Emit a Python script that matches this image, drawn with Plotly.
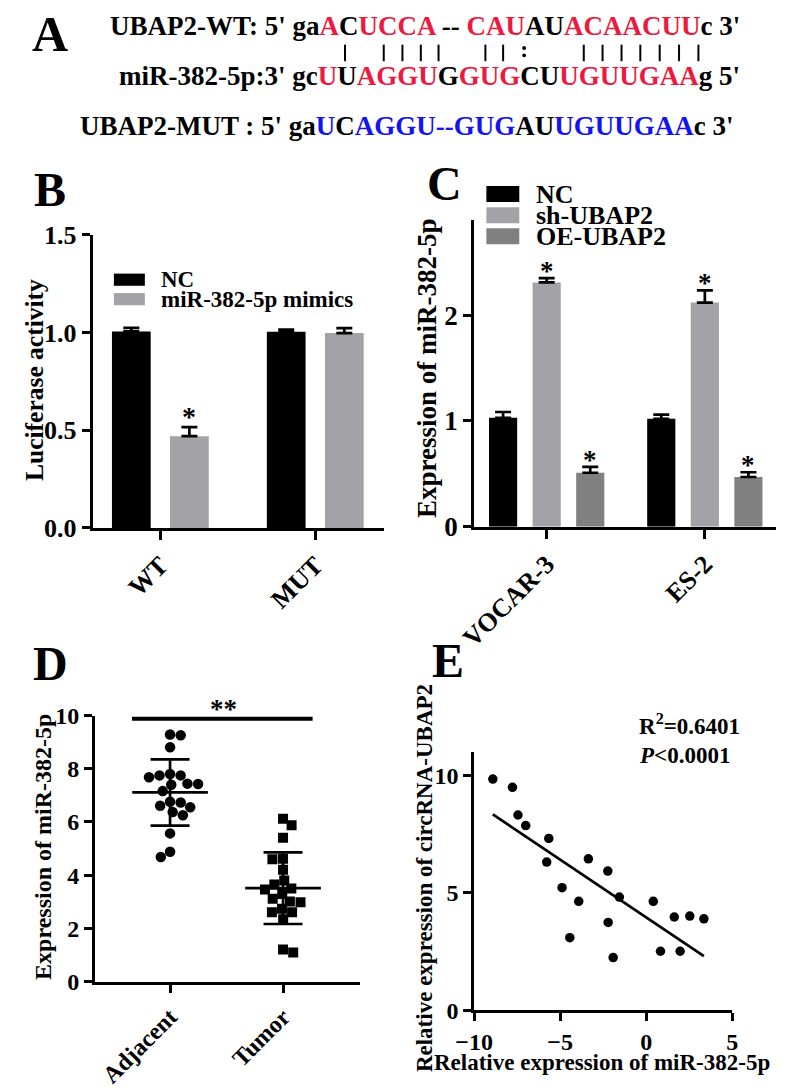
import math
import numpy as np
import plotly.graph_objects as go

W, H = 787, 1091
FONT = "Liberation Serif, Times New Roman, serif"
RED = "#ec1a3e"
BLUE = "#1414f0"
BLACK = "#000000"
LIGHT = "#a3a3a7"
DARK = "#808080"

# ---------------- data ----------------
# Panel B: luciferase activity
b_groups = ["WT", "MUT"]
b_series = ["NC", "miR-382-5p mimics"]
b_nc = [1.006, 1.004]
b_nc_err = [0.018, 0.011]
b_mimics = [0.47, 0.998]
b_mimics_err = [0.046, 0.025]
b_mimics_sig = ["*", ""]

# Panel C: expression of miR-382-5p
c_groups = ["VOCAR-3", "ES-2"]
c_series = ["NC", "sh-UBAP2", "OE-UBAP2"]
c_nc = [1.03, 1.02]
c_nc_err = [0.055, 0.04]
c_sh = [2.31, 2.12]
c_sh_err = [0.04, 0.115]
c_sh_sig = ["*", "*"]
c_oe = [0.51, 0.47]
c_oe_err = [0.055, 0.045]
c_oe_sig = ["*", "*"]

# Panel D: miR-382-5p in tissues
d_groups = ["Adjacent", "Tumor"]
d_adjacent = [9.26, 9.29, 8.81, 7.80, 7.75, 7.68, 7.75, 7.44, 7.40, 7.43,
              7.16, 6.73, 6.55, 6.61, 6.76, 6.25, 6.37, 5.57, 4.68, 4.88]
d_tumor = [6.12, 5.88, 5.41, 4.62, 4.60, 4.20, 3.80, 3.65, 3.46, 3.50,
           3.29, 3.11, 2.98, 3.01, 2.74, 2.61, 2.61, 2.34, 1.09, 1.21]

# Panel E: correlation
e_mir = [-8.91, -7.77, -7.45, -7.00, -5.66, -5.78, -4.89, -3.92, -4.44, -3.36,
         -2.23, -2.21, -1.92, -1.56, 0.41, 0.83, 1.63, 1.97, 2.53, 3.35]
e_circ = [9.85, 9.50, 8.32, 7.87, 7.32, 6.31, 5.22, 4.64, 3.09, 6.45,
          5.93, 3.74, 2.24, 4.82, 4.64, 2.51, 3.97, 2.51, 4.01, 3.89]
e_r2_text = "R<sup>2</sup>=0.6401"
e_p_text = "<i>P</i>&lt;0.0001"


# ---------------- helpers ----------------
def px(x):
    return x / W


def py(y):
    return 1 - y / H


def fnt(size, color=BLACK):
    return dict(family=FONT, size=size, color=color, weight="bold")


def axis(domain, rng, anchor, tickvals, ticktext=None, size=24, angle=0, ticklen=8, tickformat=None):
    d = dict(domain=domain, range=rng, anchor=anchor, showline=True, linecolor=BLACK,
             linewidth=2.7, ticks="outside", ticklen=ticklen, tickwidth=2.7, tickcolor=BLACK,
             showgrid=False, zeroline=False, tickvals=tickvals, tickfont=fnt(size),
             tickangle=angle, fixedrange=True)
    if ticktext is not None:
        d["ticktext"] = ticktext
    if tickformat:
        d["tickformat"] = tickformat
    return d


def slot_centers(n, slot):
    return [(k - (n - 1) / 2) * slot for k in range(n)]


def beeswarm(values, xunit_px, yunit_px, d):
    order = sorted(range(len(values)), key=lambda i: -values[i])
    placed = []
    offs = [0.0] * len(values)
    flip = 1
    for i in order:
        y = values[i] * yunit_px
        cands = [0.0]
        for xj, yj in placed:
            dy = abs(y - yj)
            if dy < d:
                dx = math.sqrt(d * d - dy * dy)
                cands += [xj + dx, xj - dx]
        valid = [c for c in cands
                 if all((c - xj) ** 2 + (y - yj) ** 2 >= d * d - 1e-6 for xj, yj in placed)]
        best = min(valid, key=lambda c: (round(abs(c), 4), -flip * c))
        if best != 0:
            flip = -flip
        placed.append((best, y))
        offs[i] = best / xunit_px
    return offs


fig = go.Figure()
annotations = []
shapes = []


def ann(text, x, y, size, xanchor="center", yanchor="middle", angle=0, color=BLACK, xref="paper", yref="paper", yshift=0):
    annotations.append(dict(text=text, x=x, y=y, xref=xref, yref=yref, showarrow=False,
                            xanchor=xanchor, yanchor=yanchor, textangle=angle,
                            font=fnt(size, color), yshift=yshift))


def err(arr):
    return dict(type="data", array=arr, arrayminus=[0] * len(arr), symmetric=False,
                color=BLACK, thickness=2.7, width=8)


# ---------------- Panel A ----------------
def r(s):
    return f'<span style="color:{RED}">{s}</span>'


def b(s):
    return f'<span style="color:{BLUE}">{s}</span>'


line1 = "UBAP2-WT: 5' ga" + r("A") + "C" + r("UCCA") + " -- " + r("CAU") + "AU" + r("ACAACUU") + "c 3'"
line2 = "miR-382-5p:3' gc" + r("U") + "U" + r("AGGU") + "G" + r("GUG") + "CU" + r("UGUUGAA") + "g 5'"
line3 = "UBAP2-MUT : 5' ga" + b("U") + "C" + b("AGGU--GUG") + "AU" + b("UGUUGAA") + "c 3'"
ann(line1, px(747), py(12), 27, xanchor="right")
ann(line2, px(747), py(63.5), 27, xanchor="right")
ann(line3, px(739), py(115.5), 27, xanchor="right")
# base-pairing marks: "|" for Watson-Crick pairs, ":" for the G:U wobble
pair_marks = [336.7, 376.7, 396, 415, 433.3, 481.7, 500, 583.3, 602.7, 622.3, 641.7, 661.7, 681.7, 701.7]
for xm in pair_marks:
    shapes.append(dict(type="line", xref="paper", yref="paper", x0=px(xm), x1=px(xm),
                       y0=py(31.5), y1=py(48.5), line=dict(color=BLACK, width=2)))
for yc in (35.0, 42.5):
    shapes.append(dict(type="circle", xref="paper", yref="paper", x0=px(519.7), x1=px(523.7),
                       y0=py(yc + 2), y1=py(yc - 2), fillcolor=BLACK, line_width=0))

# panel letters
ann("A", px(32.5), py(21), 50)
ann("B", px(32.5), py(180), 48)
ann("C", px(439), py(174), 48)
ann("D", px(32.5), py(667), 48)
ann("E", px(443), py(664), 48)

# ---------------- Panel B ----------------
slotB, wB = 0.375, 0.25
cB = slot_centers(2, slotB)
xb = list(range(len(b_groups)))
fig.add_trace(go.Bar(x=xb, y=b_nc, width=wB, offset=cB[0] - wB / 2, marker=dict(color=BLACK, line_width=0),
                     error_y=err(b_nc_err), xaxis="x", yaxis="y", showlegend=False))
fig.add_trace(go.Bar(x=xb, y=b_mimics, width=wB, offset=cB[1] - wB / 2, marker=dict(color=LIGHT, line_width=0),
                     error_y=err(b_mimics_err), xaxis="x", yaxis="y", showlegend=False))
for i, s in enumerate(b_mimics_sig):
    if s:
        ann(s, xb[i] + cB[1], b_mimics[i] + b_mimics_err[i], 28, xref="x", yref="y", yshift=11)

# legend B
for k, (name, col) in enumerate(zip(b_series, [BLACK, LIGHT])):
    y0 = 266.7 + k * 20
    shapes.append(dict(type="rect", xref="paper", yref="paper", x0=px(98), x1=px(130),
                       y0=py(y0), y1=py(y0 + 12.5), fillcolor=col, line_width=0))
    ann(name, px(145), py(y0 + 6.5), 23, xanchor="left")
ann("Luciferase activity", px(15.5), py(376), 25.5, angle=-90)

# ---------------- Panel C ----------------
slotC, wC = 0.2755, 0.178
cC = slot_centers(3, slotC)
xc = list(range(len(c_groups)))
for k, (vals, errs, col) in enumerate([(c_nc, c_nc_err, BLACK), (c_sh, c_sh_err, LIGHT), (c_oe, c_oe_err, DARK)]):
    fig.add_trace(go.Bar(x=xc, y=vals, width=wC, offset=cC[k] - wC / 2, marker=dict(color=col, line_width=0),
                         error_y=err(errs), xaxis="x2", yaxis="y2", showlegend=False))
for k, (vals, errs, sig) in [(1, (c_sh, c_sh_err, c_sh_sig)), (2, (c_oe, c_oe_err, c_oe_sig))]:
    for i, s in enumerate(sig):
        if s:
            ann(s, xc[i] + cC[k], vals[i] + errs[i], 27, xref="x2", yref="y2", yshift=7)
for k, (name, col) in enumerate(zip(c_series, [BLACK, LIGHT, DARK])):
    y0 = 176.7 + k * 21.7
    shapes.append(dict(type="rect", xref="paper", yref="paper", x0=px(482.7), x1=px(516.7),
                       y0=py(y0), y1=py(y0 + 16.5), fillcolor=col, line_width=0))
    ann(name, px(532), py(y0 + 8.5), 26, xanchor="left")
ann("Expression of miR-382-5p", px(422), py(364), 27, angle=-90)

# ---------------- Panel D ----------------
dx_dom = (78.3, 351.7)
dx_rng = (-0.666, 1.677)
dy_dom = (994, 720.7)
dy_rng = (0, 10)
xunit = (dx_dom[1] - dx_dom[0]) / (dx_rng[1] - dx_rng[0])
yunit = (dy_dom[0] - dy_dom[1]) / (dy_rng[1] - dy_rng[0])
offA = beeswarm(d_adjacent, xunit, yunit, 11)
offT = beeswarm(d_tumor, xunit, yunit, 11)
fig.add_trace(go.Scatter(x=[0 + o for o in offA], y=d_adjacent, mode="markers",
                         marker=dict(symbol="circle", size=10.5, color=BLACK), xaxis="x3", yaxis="y3", showlegend=False))
fig.add_trace(go.Scatter(x=[1 + o for o in offT], y=d_tumor, mode="markers",
                         marker=dict(symbol="square", size=10, color=BLACK), xaxis="x3", yaxis="y3", showlegend=False))
means = [float(np.mean(d_adjacent)), float(np.mean(d_tumor))]
sds = [float(np.std(d_adjacent, ddof=1)), float(np.std(d_tumor, ddof=1))]
half = 0.335
fig.add_trace(go.Scatter(x=[0 - half, 0 + half, None, 1 - half, 1 + half],
                         y=[means[0], means[0], None, means[1], means[1]], mode="lines",
                         line=dict(color=BLACK, width=2.7), xaxis="x3", yaxis="y3", showlegend=False))
fig.add_trace(go.Scatter(x=[0, 1], y=means, mode="markers", marker=dict(size=1, opacity=0),
                         error_y=dict(type="data", array=sds, symmetric=True, color=BLACK, thickness=2.7, width=19.5),
                         xaxis="x3", yaxis="y3", showlegend=False))
shapes.append(dict(type="line", xref="x3", yref="y3", x0=-0.337, x1=1.262, y0=9.88, y1=9.88,
                   line=dict(color=BLACK, width=3.8)))
ann("**", 0.475, 9.88, 27, xref="x3", yref="y3", yshift=10)
ann("Expression of miR-382-5p", px(25.5), py(856), 24, angle=-90)

# ---------------- Panel E ----------------
fig.add_trace(go.Scatter(x=e_mir, y=e_circ, mode="markers", marker=dict(size=9.5, color=BLACK),
                         xaxis="x4", yaxis="y4", showlegend=False))
slope, icpt = np.polyfit(e_mir, e_circ, 1)
xl = [min(e_mir), max(e_mir)]
fig.add_trace(go.Scatter(x=xl, y=[slope * v + icpt for v in xl], mode="lines",
                         line=dict(color=BLACK, width=2.7), xaxis="x4", yaxis="y4", showlegend=False))
ann(e_r2_text, px(638), py(730), 23, xanchor="left")
ann(e_p_text, px(638), py(762), 23, xanchor="left")
ann("Relative expression of circRNA-UBAP2", px(419), py(888), 23, angle=-90)
ann("Relative expression of miR-382-5p", px(602.5), py(1077), 23)

fig.update_layout(
    width=W, height=H, margin=dict(l=0, r=0, t=0, b=0),
    paper_bgcolor="white", plot_bgcolor="white", barmode="overlay",
    font=dict(family=FONT, color=BLACK),
    xaxis=axis([px(76), px(377)], [-0.4375, 1.444], "y", [0, 1], b_groups, size=26, angle=-45, ticklen=9),
    yaxis=axis([py(528), py(227)], [0, 1.5], "x", [0, 0.5, 1.0, 1.5], size=26, tickformat=".1f"),
    xaxis2=axis([px(470), px(781.7)], [-0.459, 1.449], "y2", [0, 1], c_groups, size=26, angle=-45, ticklen=9),
    yaxis2=axis([py(526.7), py(211.7)], [0, 2.9], "x2", [0, 1, 2], size=27),
    xaxis3=axis([px(dx_dom[0]), px(dx_dom[1])], list(dx_rng), "y3", [0, 1], d_groups, size=24, angle=-45, ticklen=9),
    yaxis3=axis([py(dy_dom[0]), py(dy_dom[1])], list(dy_rng), "x3", [0, 2, 4, 6, 8, 10], size=24),
    xaxis4=axis([px(470), px(736.7)], [-10, 5], "y4", [-10, -5, 0, 5], size=24),
    yaxis4=axis([py(1023.3), py(758.3)], [0, 11], "x4", [0, 5, 10], size=24),
    annotations=annotations, shapes=shapes,
)

fig.write_html("out.html", config={"displayModeBar": False},
               post_script="document.body.style.margin='0';document.body.style.overflow='hidden';")
